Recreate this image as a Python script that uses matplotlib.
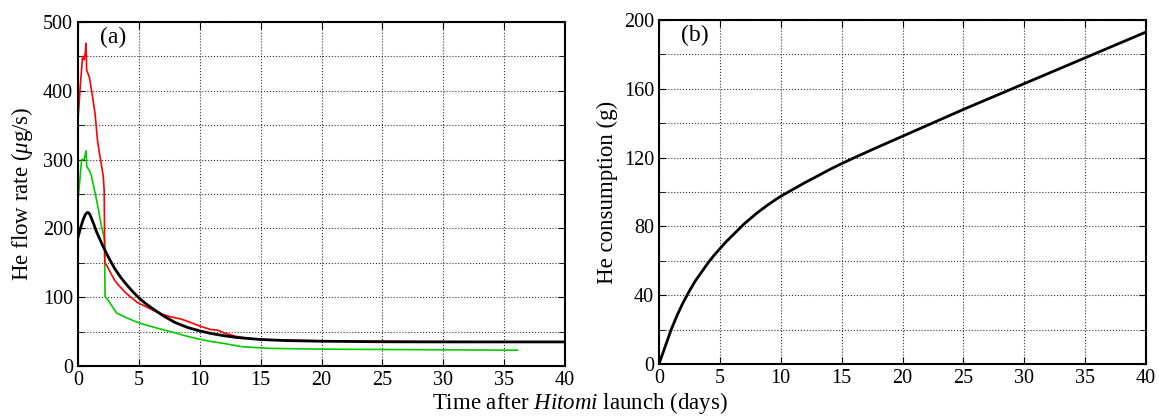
import matplotlib.pyplot as plt
import numpy as np

plt.rcParams['font.family'] = ['Liberation Serif', 'DejaVu Serif']
plt.rcParams['mathtext.fontset'] = 'custom'
plt.rcParams['mathtext.rm'] = 'Liberation Serif'
plt.rcParams['mathtext.it'] = 'Liberation Serif:italic'

# (a) He flow rate, ug/s
red_t = [0, 0.2, 0.38, 0.5, 0.6, 0.66, 0.71, 0.93, 1.12, 1.4, 1.6, 1.76, 1.9, 2.08, 2.15,
         2.2, 2.4, 2.6, 3.0, 3.3, 4.0, 4.9, 5.5, 6.5, 7.5, 8.5, 9.3, 10.0, 10.9, 11.5,
         12.0, 13.0, 14.0, 15.0, 17.0, 20.0, 22.0, 25.0, 28.0, 30.0, 33.0, 35.8]
red_v = [358, 410, 450, 445, 455, 469, 430, 420, 400, 367, 328, 309, 295, 275, 255,
         150, 145, 138, 125, 118, 105, 92, 87, 78, 72, 68, 63, 58, 53, 52,
         48, 43, 40, 38.5, 37.5, 36.5, 36, 36, 35.5, 35.5, 35, 35]

green_t = [0, 0.15, 0.3, 0.5, 0.66, 0.72, 1.0, 1.12, 1.3, 1.53, 1.75, 1.94, 2.1, 2.18,
           2.22, 2.5, 3.17, 4.0, 4.8, 5.5, 6.5, 7.9, 8.8, 9.7, 10.8, 11.9, 13.5, 15.7,
           18.0, 20.0, 25.0, 30.0, 36.1]
green_v = [241, 270, 300, 300, 313, 290, 282, 275, 260, 241, 220, 202, 190, 183,
           101, 95, 77, 70, 64, 60, 55, 48.5, 44, 40, 36, 33, 28, 25.7,
           25, 24.5, 24, 23.5, 23]

model_t = [0, 0.15, 0.3, 0.45, 0.6, 0.75, 0.85, 0.95, 1.1, 1.3, 1.5, 1.75, 2, 2.25, 2.5,
           2.75, 3, 3.5, 4, 4.5, 5, 5.5, 6, 7, 8, 9, 10, 11, 12, 13, 14, 15, 17, 20,
           25, 30, 40]
model_v = [187, 197, 206, 214, 220, 223, 223, 221, 215, 206, 196, 186, 176, 167, 158,
           150, 142, 129, 118, 108, 99, 91.5, 85, 73, 63, 56, 51, 47, 44, 41.5, 40,
           38.5, 37, 36, 35.2, 35, 35]

# (b) He consumption, g
cons_t = [0, 0.25, 0.5, 0.75, 1, 1.5, 2, 2.5, 3, 3.5, 4, 4.5, 5, 5.5, 6, 6.5, 7, 7.5,
          8, 8.5, 9, 9.5, 10, 11, 12, 13, 14, 15, 16, 17, 18, 19, 20, 22.5, 25, 27.5,
          30, 35, 40]
cons_v = [0, 5, 10, 15, 20, 28.5, 36, 42.5, 48.5, 53.5, 58.5, 63, 67, 71, 74.5, 78,
          81.5, 84.5, 87.5, 90.2, 92.8, 95.2, 97.5, 101.5, 105.5, 109.2, 113, 116.5,
          119.8, 123, 126.2, 129.3, 132.4, 140.2, 148, 155.5, 163, 178, 193]

fig = plt.figure(figsize=(11.59, 4.19), dpi=100)
ax1 = fig.add_axes([0.0673, 0.1265, 0.4202, 0.821])
ax2 = fig.add_axes([0.5686, 0.1313, 0.4202, 0.821])

ax1.plot(green_t, green_v, color='#00cc00', linewidth=1.2)
ax1.plot(red_t, red_v, color='#ff0000', linewidth=1.2)
ax1.plot(model_t, model_v, color='black', linewidth=2.0)
ax1.set_xlim(0, 40)
ax1.set_ylim(0, 500)
ax1.set_yticks(np.arange(0, 501, 100))
ax1.set_yticks(np.arange(50, 500, 100), minor=True)
ax1.set_ylabel(r'He flow rate ($\mu$g/s)', fontsize=16.5, labelpad=6)
ax1.text(0.045, 0.985, '(a)', transform=ax1.transAxes, fontsize=17, va='top', ha='left')

ax2.plot(cons_t, cons_v, color='black', linewidth=2.0)
ax2.set_xlim(0, 40)
ax2.set_ylim(0, 200)
ax2.set_yticks(np.arange(0, 201, 40))
ax2.set_yticks(np.arange(20, 200, 40), minor=True)
ax2.set_ylabel('He consumption (g)', fontsize=16.5, labelpad=4)
ax2.text(0.045, 0.985, '(b)', transform=ax2.transAxes, fontsize=17, va='top', ha='left')

for ax in (ax1, ax2):
    ax.set_xticks(np.arange(0, 41, 5))
    ax.grid(True, which='both', linestyle=':', color='#333333', linewidth=0.8)
    ax.tick_params(which='both', direction='in', top=True, right=True, labelsize=14.5)
    ax.tick_params(which='major', length=5)
    ax.tick_params(which='minor', length=4)
    for s in ax.spines.values():
        s.set_linewidth(1.5)

fig.text(0.5, 0.008, r'Time after $\it{Hitomi}$ launch (days)', ha='center', va='bottom', fontsize=16.5)

fig.savefig('out.png', dpi=100)
